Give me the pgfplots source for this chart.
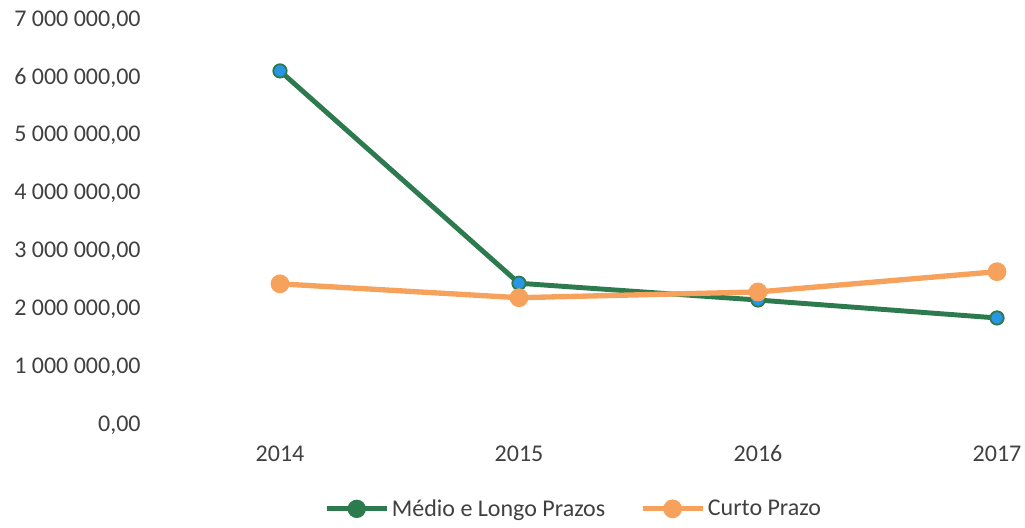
\documentclass[border=0pt]{standalone}
\usepackage{pgfplots}
\pgfplotsset{compat=1.18}
\usepackage{fontspec}
\setmainfont{Carlito}
\definecolor{mlgreen}{RGB}{44,122,78}
\definecolor{mlblue}{RGB}{40,150,230}
\definecolor{cporange}{RGB}{247,162,92}
\definecolor{txt}{RGB}{64,64,64}
\begin{document}
\begin{tikzpicture}
\useasboundingbox (-210pt,-77.25pt) rectangle (558.75pt,318.75pt);
\begin{axis}[
  at={(0,0)}, anchor=south west,
  scale only axis,
  width=537.75pt, height=303.75pt,
  xmin=2014, xmax=2017, ymin=0, ymax=7000000,
  scaled y ticks=false,
  xtick={2014,2015,2016,2017},
  xticklabels={2014,2015,2016,2017},
  ytick={0,1000000,2000000,3000000,4000000,5000000,6000000,7000000},
  yticklabels={{0,00},{1 000 000,00},{2 000 000,00},{3 000 000,00},{4 000 000,00},{5 000 000,00},{6 000 000,00},{7 000 000,00}},
  axis line style={draw=none},
  tick style={draw=none},
  clip=false,
  font=\fontsize{17.5}{21}\selectfont,
  every tick label/.append style={text=txt, font=\fontsize{18}{21}\selectfont},
  yticklabel style={anchor=east, xshift=-101pt},
  xticklabel style={anchor=north, yshift=-12pt},
  legend style={at={(axis description cs:0.41,-0.207)}, anchor=center,
    legend columns=2, draw=none, fill=none, text=txt,
    font=\fontsize{18}{21}\selectfont,
    /tikz/every even column/.append style={column sep=24pt}},
  legend image code/.code={\draw[#1, mark=none] (0pt,0pt) -- (45pt,0pt);
     \path[#1] plot coordinates {(22.5pt,0pt)};},
]
\addplot[color=mlgreen, line width=3.7pt, mark=*, mark size=5pt,
  mark options={draw=mlgreen, fill=mlblue, line width=1.4pt},
  legend image post style={mark options={fill=mlgreen}}]
  coordinates {(2014,6120000) (2015,2450000) (2016,2160000) (2017,1850000)};
\addlegendentry{Médio e Longo Prazos}
\addplot[color=cporange, line width=4pt, mark=*, mark size=5pt,
  mark options={draw=cporange, fill=cporange}]
  coordinates {(2014,2440000) (2015,2200000) (2016,2300000) (2017,2650000)};
\addlegendentry{Curto Prazo}
\end{axis}
\end{tikzpicture}
\end{document}
